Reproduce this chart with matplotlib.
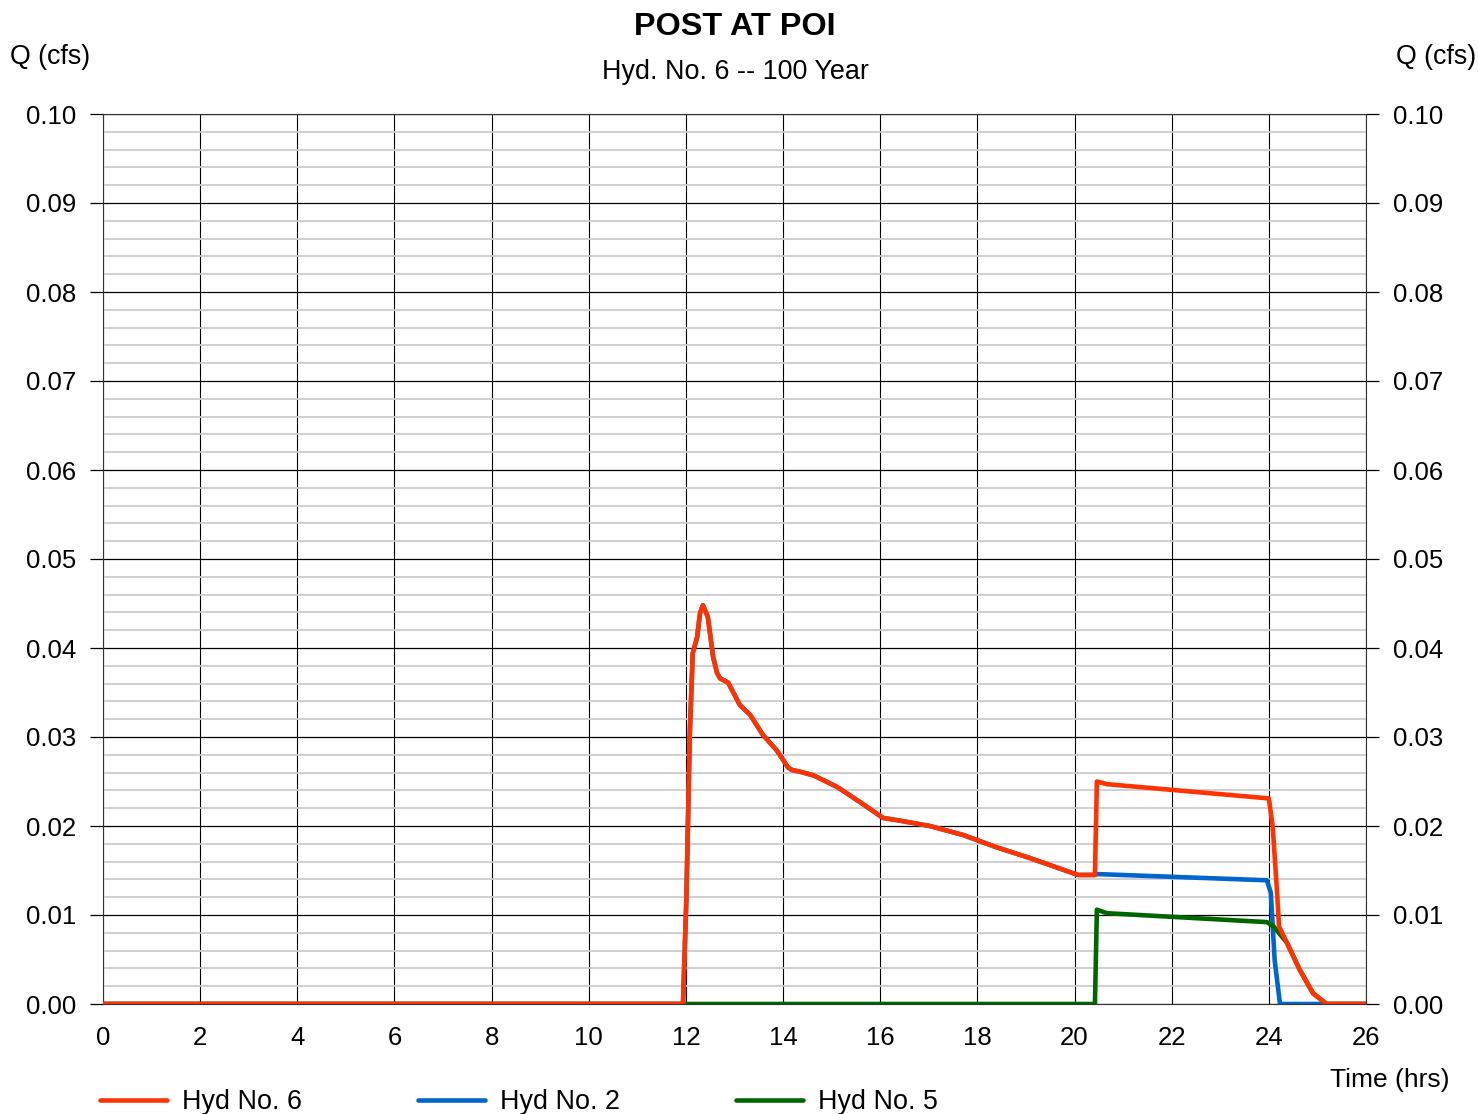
import numpy as np
import matplotlib
matplotlib.use("Agg")
import matplotlib.pyplot as plt
from matplotlib.ticker import MultipleLocator, FormatStrFormatter

plt.rcParams['font.family'] = ['Liberation Sans', 'DejaVu Sans']

# Hyd No. 6 (combined hydrograph)
t6 = [0.0, 11.94, 12.01, 12.08, 12.14, 12.23, 12.29, 12.35, 12.45, 12.56, 12.64,
      12.70, 12.87, 13.11, 13.32, 13.59, 13.87, 14.10, 14.18, 14.35, 14.62, 15.11,
      15.58, 16.06, 16.41, 17.02, 17.70, 18.40, 19.08, 19.76, 20.07, 20.42, 20.46,
      20.67, 24.00, 24.08, 24.17, 24.21, 24.37, 24.64, 24.91, 25.19, 26.0]
q6 = [0.0, 0.0, 0.0120, 0.0304, 0.0394, 0.0412, 0.0439, 0.0448, 0.0435, 0.0390, 0.0372,
      0.0366, 0.0361, 0.0336, 0.0325, 0.0302, 0.0285, 0.0266, 0.0263, 0.0261, 0.0257, 0.0244,
      0.0227, 0.0209, 0.0206, 0.0200, 0.0190, 0.0176, 0.0164, 0.0151, 0.0145, 0.0145, 0.0250,
      0.0247, 0.0231, 0.0199, 0.0125, 0.0087, 0.0069, 0.0038, 0.0012, 0.0, 0.0]

# Hyd No. 2
t2 = [0.0, 11.94, 12.01, 12.08, 12.14, 12.23, 12.29, 12.35, 12.45, 12.56, 12.64,
      12.70, 12.87, 13.11, 13.32, 13.59, 13.87, 14.10, 14.18, 14.35, 14.62, 15.11,
      15.58, 16.06, 16.41, 17.02, 17.70, 18.40, 19.08, 19.76, 20.07, 20.42, 20.46,
      23.96, 24.04, 24.12, 24.23, 26.0]
q2 = [0.0, 0.0, 0.0120, 0.0304, 0.0394, 0.0412, 0.0439, 0.0448, 0.0435, 0.0390, 0.0372,
      0.0366, 0.0361, 0.0336, 0.0325, 0.0302, 0.0285, 0.0266, 0.0263, 0.0261, 0.0257, 0.0244,
      0.0227, 0.0209, 0.0206, 0.0200, 0.0190, 0.0176, 0.0164, 0.0151, 0.0145, 0.0145, 0.0146,
      0.0139, 0.0125, 0.0049, 0.0, 0.0]

# Hyd No. 5
t5 = [0.0, 20.42, 20.46, 20.67, 23.96, 24.10, 24.37, 24.64, 24.91, 25.19, 26.0]
q5 = [0.0, 0.0, 0.0106, 0.0102, 0.0092, 0.0087, 0.0069, 0.0038, 0.0012, 0.0, 0.0]

x_ticks = list(range(0, 27, 2))
y_ticks = [0.00, 0.01, 0.02, 0.03, 0.04, 0.05, 0.06, 0.07, 0.08, 0.09, 0.10]

fig = plt.figure(figsize=(14.78, 11.14), dpi=100)
ax = fig.add_axes([103/1478, 110/1114, 1263/1478, 890/1114])

line_kw = dict(lw=3.3, solid_joinstyle="round", solid_capstyle="round")
ax.plot(t2, q2, color="#0066CC", label="Hyd No. 2", zorder=3, **line_kw)
ax.plot(t5, q5, color="#006600", label="Hyd No. 5", zorder=4, **line_kw)
ax.plot(t6, q6, color="#FF3300", label="Hyd No. 6", zorder=5, **line_kw)

ax.set_xlim(0, 26)
ax.set_ylim(0, 0.10)
ax.set_xticks(x_ticks)
ax.set_yticks(y_ticks)
ax.yaxis.set_minor_locator(MultipleLocator(0.002))
ax.yaxis.set_major_formatter(FormatStrFormatter("%.2f"))

ax.grid(axis="y", which="minor", color="#cccccc", lw=1.3, zorder=0)
ax.grid(axis="y", which="major", color="black", lw=0.9, zorder=1)
ax.grid(axis="x", which="major", color="black", lw=0.8, zorder=1)
ax.set_axisbelow(True)

for s in ax.spines.values():
    s.set_linewidth(0.8)
    s.set_color("#333333")

ax.tick_params(axis="y", which="major", direction="out", length=9.5, width=0.9,
               left=True, right=True, labelleft=True, labelright=True,
               labelsize=18.5, pad=10)
ax.tick_params(axis="y", which="minor", length=0)
ax.tick_params(axis="x", length=0, labelsize=18.5, pad=16)

fig.text(735/1478, 1 - 27/1114, "POST AT POI", ha="center", va="center",
         fontsize=23.3, fontweight="bold")
fig.text(735/1478, 1 - 72/1114, "Hyd. No. 6 -- 100 Year", ha="center", va="center",
         fontsize=19.4)
fig.text(50/1478, 1 - 57/1114, "Q (cfs)", ha="center", va="center", fontsize=19.3)
fig.text(1436/1478, 1 - 57/1114, "Q (cfs)", ha="center", va="center", fontsize=19.3)
fig.text(1390/1478, 1 - 1080/1114, "Time (hrs)", ha="center", va="center", fontsize=19)

h = {l.get_label(): l for l in ax.get_lines()}
order = ["Hyd No. 6", "Hyd No. 2", "Hyd No. 5"]
fig.legend([h[k] for k in order], order, loc="center left",
           bbox_to_anchor=(100/1478, 1 - 1102/1114), ncol=3, frameon=False,
           fontsize=19.4, handlelength=2.5, handletextpad=0.55, columnspacing=4.3,
           borderpad=0, borderaxespad=0)

fig.savefig("out.png", dpi=100)
